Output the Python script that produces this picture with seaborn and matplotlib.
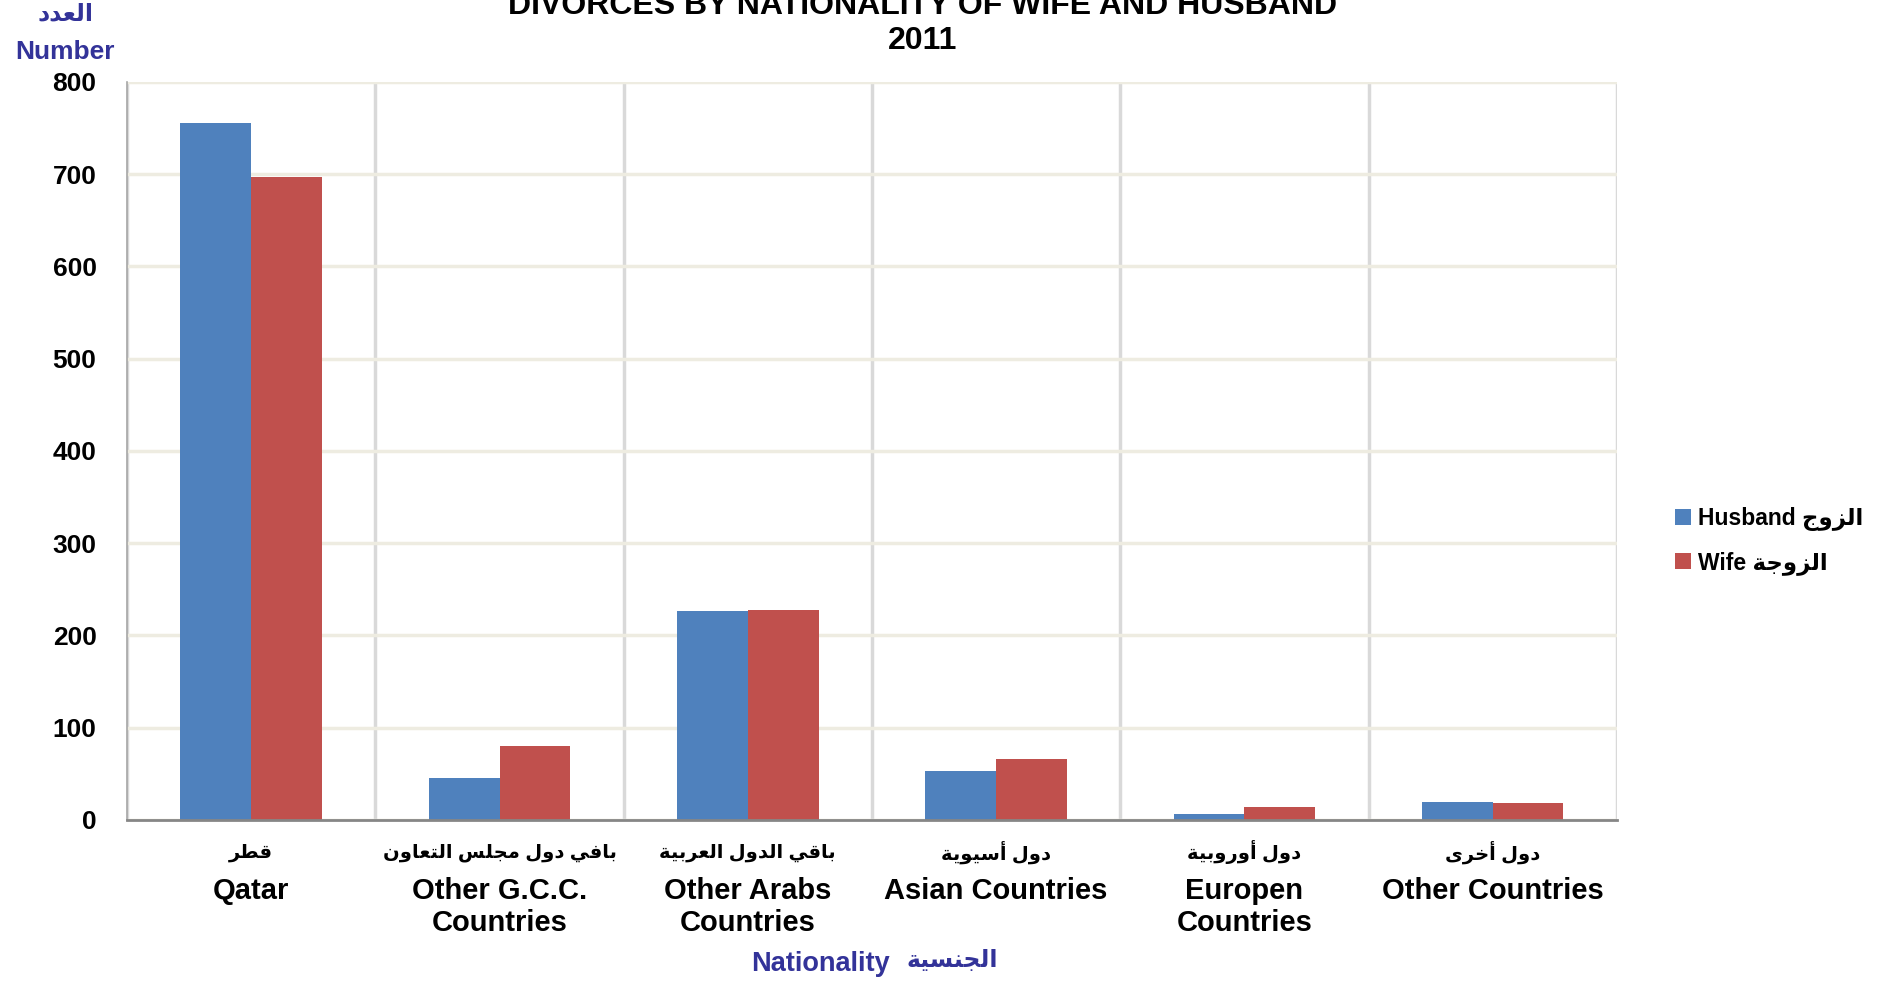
import matplotlib
matplotlib.use("Agg")
import matplotlib.pyplot as plt
import seaborn as sns
import pandas as pd
import numpy as np
from matplotlib.ticker import FixedLocator

# data
categories_en = ["Qatar", "Other G.C.C.\nCountries", "Other Arabs\nCountries",
                 "Asian Countries", "Europen\nCountries", "Other Countries"]
categories_ar = ["قطر", "بافي دول مجلس التعاون", "باقي الدول العربية",
                 "دول أسيوية", "دول أوروبية", "دول أخرى"]
husband = [755, 45, 227, 53, 6, 20]
wife = [697, 80, 228, 66, 14, 18]
yticks = [0, 100, 200, 300, 400, 500, 600, 700, 800]

# --- minimal Arabic shaping (matplotlib has no bidi / joining) ---
FORMS = {
    "ا": ("\uFE8D", "\uFE8E", None, None),
    "أ": ("\uFE83", "\uFE84", None, None),
    "ب": ("\uFE8F", "\uFE90", "\uFE91", "\uFE92"),
    "ة": ("\uFE93", "\uFE94", None, None),
    "ت": ("\uFE95", "\uFE96", "\uFE97", "\uFE98"),
    "ج": ("\uFE9D", "\uFE9E", "\uFE9F", "\uFEA0"),
    "خ": ("\uFEA5", "\uFEA6", "\uFEA7", "\uFEA8"),
    "د": ("\uFEA9", "\uFEAA", None, None),
    "ر": ("\uFEAD", "\uFEAE", None, None),
    "ز": ("\uFEAF", "\uFEB0", None, None),
    "س": ("\uFEB1", "\uFEB2", "\uFEB3", "\uFEB4"),
    "ط": ("\uFEC1", "\uFEC2", "\uFEC3", "\uFEC4"),
    "ع": ("\uFEC9", "\uFECA", "\uFECB", "\uFECC"),
    "ف": ("\uFED1", "\uFED2", "\uFED3", "\uFED4"),
    "ق": ("\uFED5", "\uFED6", "\uFED7", "\uFED8"),
    "ل": ("\uFEDD", "\uFEDE", "\uFEDF", "\uFEE0"),
    "م": ("\uFEE1", "\uFEE2", "\uFEE3", "\uFEE4"),
    "ن": ("\uFEE5", "\uFEE6", "\uFEE7", "\uFEE8"),
    "و": ("\uFEED", "\uFEEE", None, None),
    "ى": ("\uFEEF", "\uFEF0", None, None),
    "ي": ("\uFEF1", "\uFEF2", "\uFEF3", "\uFEF4"),
}


def shape_arabic(text):
    out = []
    for i, ch in enumerate(text):
        if ch not in FORMS:
            out.append(ch)
            continue
        prev = text[i - 1] if i > 0 else ""
        nxt = text[i + 1] if i + 1 < len(text) else ""
        joins_prev = prev in FORMS and FORMS[prev][2] is not None
        joins_next = FORMS[ch][2] is not None and nxt in FORMS
        iso, fin, ini, med = FORMS[ch]
        if joins_prev and joins_next:
            out.append(med)
        elif joins_prev:
            out.append(fin)
        elif joins_next:
            out.append(ini)
        else:
            out.append(iso)
    return "".join(reversed(out))


BLUE = "#4F81BD"
RED = "#C0504D"
NAVY = "#333399"
FAMILY = ["Liberation Sans Narrow", "Liberation Sans", "DejaVu Sans"]

lab_h = "Husband " + shape_arabic("الزوج")
lab_w = "Wife " + shape_arabic("الزوجة")

df = pd.DataFrame({
    "cat": categories_en * 2,
    "value": husband + wife,
    "who": [lab_h] * len(husband) + [lab_w] * len(wife),
})

sns.set_theme(style="white")
plt.rcParams["font.family"] = FAMILY
plt.rcParams["font.weight"] = "bold"
plt.rcParams["text.color"] = "black"
plt.rcParams["xtick.color"] = "black"
plt.rcParams["ytick.color"] = "black"

fig, ax = plt.subplots(figsize=(18.91, 9.84), dpi=100)
fig.subplots_adjust(left=0.0672, right=0.855, top=0.9167, bottom=0.1667)

sns.barplot(data=df, x="cat", y="value", hue="who", order=categories_en,
            palette={lab_h: BLUE, lab_w: RED}, width=0.57, gap=0,
            saturation=1, edgecolor="none", linewidth=0, ax=ax, zorder=3)

ax.set_xlim(-0.5, len(categories_en) - 0.5)
ax.set_ylim(0, 800)
ax.set_yticks(yticks)
ax.set_yticklabels([str(v) for v in yticks], fontsize=19, fontweight="bold")

# gridlines: beige horizontals, grey category separators
ax.yaxis.grid(True, color="#EEECE1", linewidth=2.5, zorder=0)
ax.xaxis.set_minor_locator(FixedLocator(np.arange(-0.5, len(categories_en), 1.0)))
ax.xaxis.grid(True, which="minor", color="#D9D9D9", linewidth=2.5, zorder=0)
ax.xaxis.grid(False, which="major")
ax.set_axisbelow(True)
ax.tick_params(axis="both", which="both", length=0)
ax.tick_params(axis="y", pad=22)
ax.tick_params(axis="x", pad=41)
for s in ["top", "right"]:
    ax.spines[s].set_visible(False)
ax.spines["left"].set_color("#A6A6A6")
ax.spines["left"].set_linewidth(1.2)
ax.spines["bottom"].set_color("#868686")
ax.spines["bottom"].set_linewidth(2)
ax.spines["bottom"].set_zorder(4)

ax.set_xticks(range(len(categories_en)))
ax.set_xticklabels(categories_en, fontsize=21, fontweight="bold",
                   linespacing=1.2)
ax.set_xlabel("")
ax.set_ylabel("")

# arabic category names above english ones
for i, name in enumerate(categories_ar):
    ax.text(i, -0.044, shape_arabic(name), transform=ax.get_xaxis_transform(),
            ha="center", va="center", fontsize=14, fontweight="bold",
            family=FAMILY, color="black")

# titles
fig.text(0.488, 0.994, "DIVORCES BY NATIONALITY OF WIFE AND HUSBAND",
         ha="center", va="center", fontsize=23, fontweight="bold", family=FAMILY)
fig.text(0.488, 0.958, "2011", ha="center", va="center", fontsize=23,
         fontweight="bold", family=FAMILY)
fig.text(0.0345, 0.986, shape_arabic("العدد"), ha="center", va="center",
         fontsize=17, fontweight="bold", color=NAVY, family=FAMILY)
fig.text(0.0345, 0.947, "Number", ha="center", va="center",
         fontsize=19, fontweight="bold", color=NAVY, family=FAMILY)
fig.text(0.4337, 0.020, "Nationality", ha="center", va="center",
         fontsize=19.5, fontweight="bold", color=NAVY, family=FAMILY)
fig.text(0.5038, 0.024, shape_arabic("الجنسية"), ha="center", va="center",
         fontsize=17, fontweight="bold", color=NAVY, family=FAMILY)

leg = ax.legend(loc="center left", bbox_to_anchor=(1.025, 0.378), frameon=False,
                prop={"size": 16.5, "weight": "bold"}, handlelength=0.7,
                handleheight=0.7, handletextpad=0.3, labelspacing=0.85,
                title=None)

fig.savefig("out.png", dpi=100)
